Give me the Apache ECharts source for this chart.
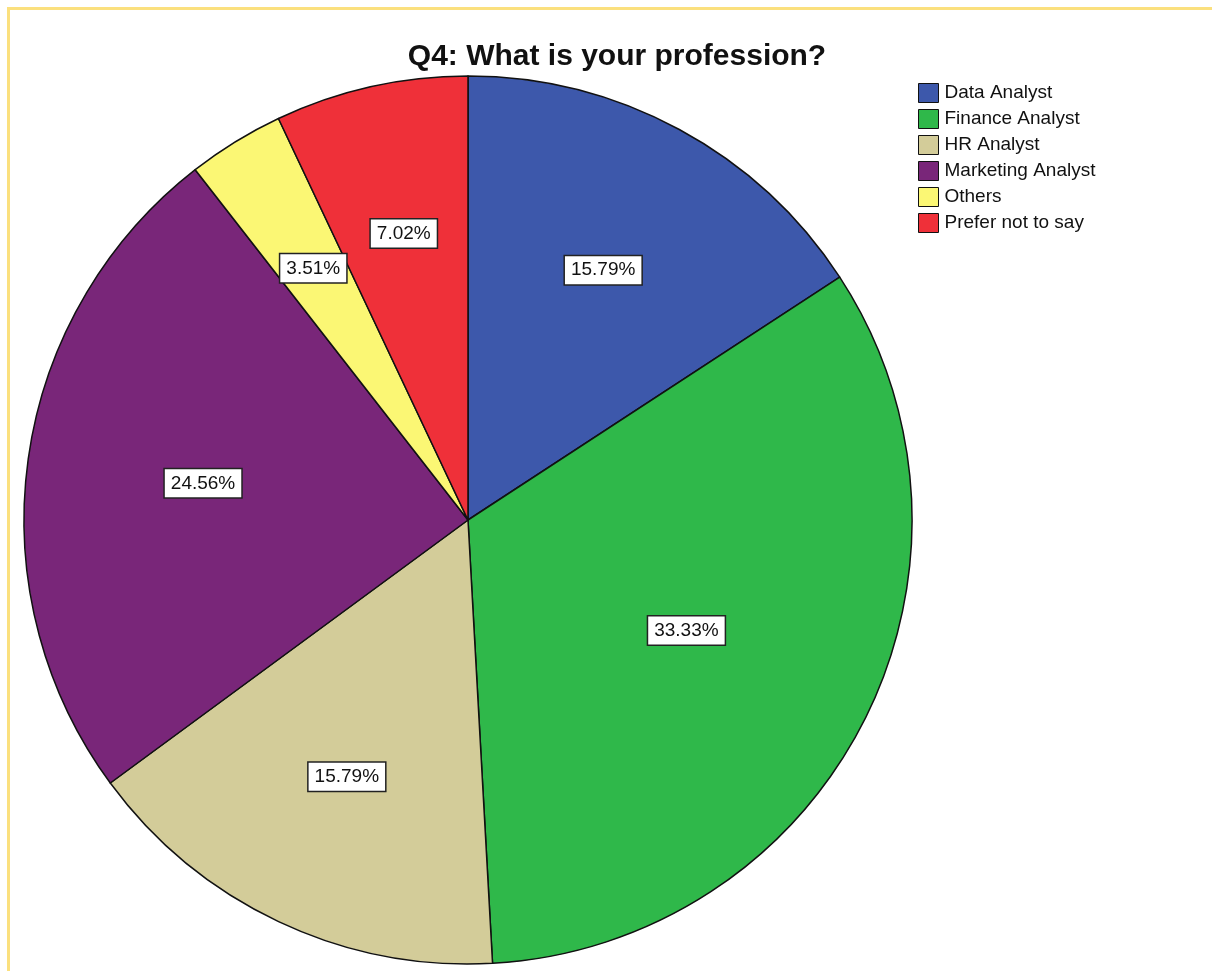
<!DOCTYPE html>
<html>
<head>
<meta charset="utf-8">
<script src="https://cdn.jsdelivr.net/npm/echarts@6/dist/echarts.min.js"></script>
<style>
  html, body { margin: 0; padding: 0; background: #ffffff; }
  #frame {
    position: absolute; left: 7px; top: 7px; width: 1212px; height: 971px;
    border-left: 3px solid #fbe07e; border-top: 3px solid #fbe07e;
  }
  #chart { position: absolute; left: 0; top: 0; width: 1212px; height: 971px; }
</style>
</head>
<body>
<div id="frame"></div>
<div id="chart"></div>
<script>
// Survey responses for Q4, percent of respondents
const categories = ['Data Analyst', 'Finance Analyst', 'HR Analyst', 'Marketing Analyst', 'Others', 'Prefer not to say'];
const percents = [15.79, 33.33, 15.79, 24.56, 3.51, 7.02];
const colors = ['#3d58ab', '#2fb84a', '#d3cc99', '#792679', '#fbf774', '#ef3039'];

const titleText = 'Q4: What is your profession?';

const center = [468, 520];
const outerR = 444;

const pieData = categories.map((name, i) => ({
  name: name,
  value: percents[i],
  itemStyle: { color: colors[i] }
}));

// Percentage boxes sit at the centroid of each sector (clockwise from 12 o'clock)
const total = percents.reduce((a, b) => a + b, 0);
function sectorCentroid(index) {
  let before = 0;
  for (let k = 0; k < index; k++) before += percents[k];
  const sweep = percents[index] / total * Math.PI * 2;
  const mid = before / total * Math.PI * 2 + sweep / 2;
  const half = sweep / 2;
  const dist = (2 / 3) * outerR * Math.sin(half) / half;
  return [center[0] + dist * Math.sin(mid), center[1] - dist * Math.cos(mid)];
}

const chart = echarts.init(document.getElementById('chart'), null, { renderer: 'canvas' });

chart.setOption({
  animation: false,
  backgroundColor: 'transparent',
  title: {
    text: titleText,
    left: 612,
    top: 37,
    textAlign: 'center',
    textStyle: {
      fontFamily: 'Liberation Sans, Arial, sans-serif',
      fontWeight: 'bold',
      fontSize: 30,
      color: '#111111'
    }
  },
  legend: {
    orient: 'vertical',
    left: 918,
    top: 83,
    padding: 0,
    itemWidth: 20,
    itemHeight: 19,
    itemGap: 6,
    icon: 'rect',
    itemStyle: { borderColor: '#111111', borderWidth: 1 },
    textStyle: {
      fontFamily: 'Liberation Sans, Arial, sans-serif',
      fontSize: 19,
      lineHeight: 20,
      color: '#111111',
      padding: [0, 0, 0, 1]
    },
    data: categories
  },
  series: [
    {
      // filled sectors
      type: 'pie',
      center: center,
      radius: [0, outerR],
      startAngle: 90,
      clockwise: true,
      silent: true,
      label: { show: false },
      labelLine: { show: false },
      itemStyle: { borderColor: '#111111', borderWidth: 1.5 },
      data: pieData
    },
    {
      // transparent copy that carries the percentage boxes
      type: 'pie',
      center: center,
      radius: [0, outerR],
      startAngle: 90,
      clockwise: true,
      silent: true,
      legendHoverLink: false,
      itemStyle: { color: 'rgba(0,0,0,0)', borderWidth: 0 },
      label: {
        show: true,
        position: 'inside',
        formatter: (p) => p.value.toFixed(2) + '%',
        fontFamily: 'Liberation Sans, Arial, sans-serif',
        fontSize: 19,
        color: '#111111',
        backgroundColor: '#ffffff',
        borderColor: '#222222',
        borderWidth: 1.5,
        padding: [5, 6, 4, 6]
      },
      labelLayout: (params) => {
        const p = sectorCentroid(params.dataIndex);
        return { x: p[0], y: p[1], align: 'center', verticalAlign: 'middle' };
      },
      labelLine: { show: false },
      data: categories.map((name, i) => ({ name: name + ' ', value: percents[i] }))
    }
  ]
});
</script>
</body>
</html>
